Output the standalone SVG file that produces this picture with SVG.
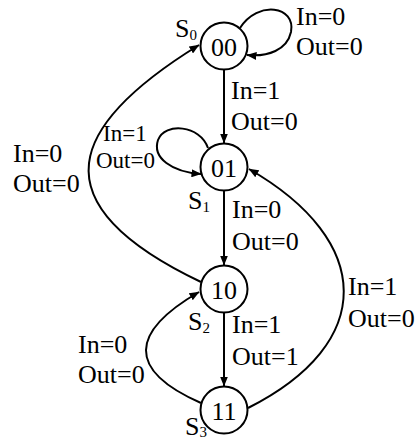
<svg xmlns="http://www.w3.org/2000/svg" width="415" height="440" viewBox="0 0 415 440" font-family="'Liberation Serif', 'Times New Roman', Times, serif">
<style>
.st{fill:#fff;stroke:#000;stroke-width:2}
text{font-family:'Liberation Serif','Times New Roman',Times,serif;fill:#000}
.nt{font-size:26px;text-anchor:middle}
.lb{font-size:26px}
.sm{font-size:23px}
.sub{font-size:15px}
.cn{fill:none;stroke:#000;stroke-width:2}
</style>
<defs>
<marker id="ah" viewBox="0 0 10 8" refX="9.5" refY="4" markerWidth="10" markerHeight="8" markerUnits="userSpaceOnUse" orient="auto">
<path d="M0,0 L10,4 L0,8 z" fill="#000"/>
</marker>
</defs>
<rect width="415" height="440" fill="#fff"/>
<g id="connectors">
<path class="cn" d="M240,28 C258,0 296,6 291,32 C287,50 268,57 247,55" marker-end="url(#ah)"/>
<path class="cn" d="M224,70 L224,143" marker-end="url(#ah)"/>
<path class="cn" d="M208,148 C200,125 165,122 158,140 C152,158 172,172 201,174" marker-end="url(#ah)"/>
<path class="cn" d="M224,191 L224,265" marker-end="url(#ah)"/>
<path class="cn" d="M224,313 L224,386" marker-end="url(#ah)"/>
<path class="cn" d="M201,282 C33,202 71,124 199,45" marker-end="url(#ah)"/>
<path class="cn" d="M248,408 C377,343 374,241 249,169" marker-end="url(#ah)"/>
<path class="cn" d="M201,403 C126,370 130,332 199,292" marker-end="url(#ah)"/>
</g>
<g id="labels">
<text class="lb" x="296" y="25">In=0</text>
<text class="lb" x="296" y="55">Out=0</text>
<text class="lb" x="231" y="99">In=1</text>
<text class="lb" x="231" y="130">Out=0</text>
<text class="lb" x="13" y="162">In=0</text>
<text class="lb" x="13" y="192">Out=0</text>
<text class="lb sm" x="103" y="141">In=1</text>
<text class="lb sm" x="96" y="168">Out=0</text>
<text class="lb" x="232" y="218">In=0</text>
<text class="lb" x="232" y="250">Out=0</text>
<text class="lb" x="348" y="295">In=1</text>
<text class="lb" x="348" y="327">Out=0</text>
<text class="lb" x="232" y="333">In=1</text>
<text class="lb" x="232" y="365">Out=1</text>
<text class="lb" x="78" y="353">In=0</text>
<text class="lb" x="78" y="383">Out=0</text>
</g>
<g id="S0">
<circle class="st" cx="224" cy="46" r="23.5"/>
<text class="nt" x="224" y="55.5">00</text>
<text class="lb" x="175" y="37">S<tspan class="sub" dy="3">0</tspan></text>
</g>
<g id="S1">
<circle class="st" cx="224" cy="167" r="23.5"/>
<text class="nt" x="224" y="176.5">01</text>
<text class="lb" x="188" y="209">S<tspan class="sub" dy="3">1</tspan></text>
</g>
<g id="S2">
<circle class="st" cx="224" cy="289" r="23.5"/>
<text class="nt" x="224" y="298.5">10</text>
<text class="lb" x="188" y="330">S<tspan class="sub" dy="3">2</tspan></text>
</g>
<g id="S3">
<circle class="st" cx="224" cy="410" r="23.5"/>
<text class="nt" x="224" y="419.5">11</text>
<text class="lb" x="185" y="435">S<tspan class="sub" dy="2">3</tspan></text>
</g>
</svg>
